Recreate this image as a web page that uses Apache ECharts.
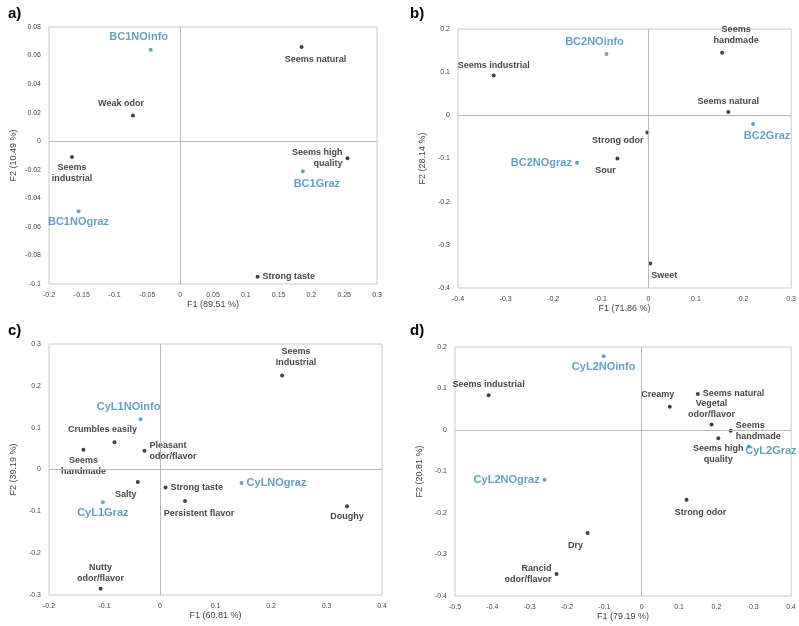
<!DOCTYPE html>
<html>
<head>
<meta charset="utf-8">
<script src="https://cdn.jsdelivr.net/npm/echarts@6/dist/echarts.min.js"></script>
<style>html,body{margin:0;padding:0;background:#fff}#chart{width:799px;height:626px}</style>
</head>
<body>
<div id="chart"></div>
<script>
// panel a
const namesA = ['BC1NOinfo', 'Seems natural', 'Weak odor', 'Seems\nindustrial', 'BC1NOgraz', 'Seems high\nquality', 'BC1Graz', 'Strong taste'];
const xA = [-0.045, 0.185, -0.072, -0.165, -0.155, 0.255, 0.187, 0.118];
const yA = [0.064, 0.066, 0.018, -0.011, -0.049, -0.012, -0.021, -0.095];
const obsA = [1, 0, 0, 0, 1, 0, 1, 0];
const posA = ['topLeft', 'bottomRight', 'topLeft', 'bottom', 'bottom', 'left', 'bottomRight', 'right'];

// panel b
const namesB = ['BC2NOinfo', 'Seems industrial', 'Seems\nhandmade', 'Seems natural', 'BC2Graz', 'Strong odor', 'BC2NOgraz', 'Sour', 'Sweet'];
const xB = [-0.088, -0.325, 0.155, 0.168, 0.22, -0.002, -0.15, -0.065, 0.004];
const yB = [0.142, 0.092, 0.145, 0.008, -0.02, -0.04, -0.11, -0.1, -0.343];
const obsB = [1, 0, 0, 0, 1, 0, 1, 0, 0];
const posB = ['topLeft', 'top', 'topRight', 'top', 'bottomRight', 'leftLow', 'left', 'bottomLeft', 'bottomRight'];

// panel c
const namesC = ['Seems\nIndustrial', 'CyL1NOinfo', 'Crumbles easily', 'Pleasant\nodor/flavor', 'Seems\nhandmade', 'Salty', 'Strong taste', 'CyLNOgraz', 'CyL1Graz', 'Persistent flavor', 'Doughy', 'Nutty\nodor/flavor'];
const xC = [0.22, -0.035, -0.082, -0.028, -0.138, -0.04, 0.01, 0.147, -0.103, 0.045, 0.337, -0.107];
const yC = [0.225, 0.12, 0.065, 0.045, 0.047, -0.03, -0.043, -0.032, -0.078, -0.075, -0.088, -0.285];
const obsC = [0, 1, 0, 0, 0, 0, 0, 1, 1, 0, 0, 0];
const posC = ['topRight', 'topLeft', 'topLeft', 'right', 'bottom', 'bottomLeft', 'right', 'right', 'bottom', 'bottomRight', 'bottom', 'top'];

// panel d
const namesD = ['CyL2NOinfo', 'Seems industrial', 'Seems natural', 'Creamy', 'Vegetal\nodor/flavor', 'Seems\nhandmade', 'Seems high\nquality', 'CyL2Graz', 'CyL2NOgraz', 'Strong odor', 'Dry', 'Rancid\nodor/flavor'];
const xD = [-0.102, -0.41, 0.15, 0.075, 0.187, 0.238, 0.205, 0.287, -0.26, 0.12, -0.145, -0.228];
const yD = [0.178, 0.084, 0.087, 0.056, 0.013, -0.002, -0.02, -0.04, -0.12, -0.168, -0.248, -0.347];
const obsD = [1, 0, 0, 0, 0, 0, 0, 1, 1, 0, 0, 0];
const posD = ['bottom', 'top', 'right', 'topLeft', 'top', 'right', 'bottom', 'overRight', 'left', 'bottomRight', 'bottomLeft', 'left'];

const blue = '#3f88b2';

const placements = {
    top: { position: 'top', distance: 3, align: 'center' },
    bottom: { position: 'bottom', distance: 3, align: 'center' },
    left: { position: 'left', distance: 3, align: 'right' },
    leftLow: { position: 'left', distance: 2, align: 'right', offset: [0, 8] },
    right: { position: 'right', distance: 3, align: 'left' },
    overRight: { position: 'inside', align: 'center', offset: [22, 4] },
    topLeft: { position: 'top', offset: [-12, 0], align: 'center' },
    topRight: { position: 'top', offset: [14, 0], align: 'center' },
    bottomLeft: { position: 'bottom', offset: [-12, 0], align: 'center' },
    bottomRight: { position: 'bottom', offset: [14, 0], align: 'center' }
};

const panels = [
    { names: namesA, x: xA, y: yA, obs: obsA, pos: posA, xr: [-0.2, 0.3, 0.05], yr: [-0.1, 0.08, 0.02], xn: 'F1 (89.51 %)', yn: 'F2 (10.49 %)', g: { left: 49, top: 27, width: 328, height: 257 }, tag: 'a)', tx: 8, ty: 6 },
    { names: namesB, x: xB, y: yB, obs: obsB, pos: posB, xr: [-0.4, 0.3, 0.1], yr: [-0.4, 0.2, 0.1], xn: 'F1 (71.86 %)', yn: 'F2 (28.14 %)', g: { left: 458, top: 29, width: 339, height: 259 }, tag: 'b)', tx: 410, ty: 6 },
    { names: namesC, x: xC, y: yC, obs: obsC, pos: posC, xr: [-0.2, 0.4, 0.1], yr: [-0.3, 0.3, 0.1], xn: 'F1 (60.81 %)', yn: 'F2 (39.19 %)', g: { left: 49, top: 344, width: 333, height: 251 }, tag: 'c)', tx: 8, ty: 323 },
    { names: namesD, x: xD, y: yD, obs: obsD, pos: posD, xr: [-0.5, 0.4, 0.1], yr: [-0.4, 0.2, 0.1], xn: 'F1 (79.19 %)', yn: 'F2 (20.81 %)', g: { left: 455, top: 347, width: 342, height: 249 }, tag: 'd)', tx: 410, ty: 323 }
];

const grid = [], xAxis = [], yAxis = [], series = [], graphic = [];
panels.forEach(function (p, i) {
    grid.push(Object.assign({ show: true, borderColor: '#c8c8c8', borderWidth: 1 }, p.g));
    const axisBase = {
        gridIndex: i, type: 'value',
        axisLine: { show: false }, axisTick: { show: false }, splitLine: { show: false },
        axisLabel: { fontSize: 7, color: '#444', fontFamily: 'Liberation Sans' },
        nameLocation: 'middle',
        nameTextStyle: { fontSize: 9, color: '#444', fontFamily: 'Liberation Sans' }
    };
    xAxis.push(Object.assign({}, axisBase, { min: p.xr[0], max: p.xr[1], interval: p.xr[2], name: p.xn, nameGap: 15 }));
    yAxis.push(Object.assign({}, axisBase, { min: p.yr[0], max: p.yr[1], interval: p.yr[2], name: p.yn, nameGap: 31 }));
    const data = p.names.map(function (n, k) {
        const color = p.obs[k] ? blue : '#111';
        return {
            value: [p.x[k], p.y[k]],
            itemStyle: { color: color },
            label: Object.assign({
                show: true, formatter: n,
                color: color,
                fontWeight: 'bold',
                fontFamily: 'Liberation Sans',
                fontSize: p.obs[k] ? 11 : 9,
                lineHeight: 11
            }, placements[p.pos[k]])
        };
    });
    series.push({
        type: 'scatter', xAxisIndex: i, yAxisIndex: i,
        symbolSize: 4, data: data,
        markLine: {
            silent: true, symbol: 'none', label: { show: false },
            lineStyle: { color: '#b8b8b8', width: 1, type: 'solid' },
            data: [{ xAxis: 0 }, { yAxis: 0 }]
        }
    });
    graphic.push({
        type: 'text', left: p.tx, top: p.ty,
        style: { text: p.tag, font: 'bold 15px Liberation Sans', fill: '#000' }
    });
});

const myChart = echarts.init(document.getElementById('chart'));
myChart.setOption({ animation: false, grid: grid, xAxis: xAxis, yAxis: yAxis, series: series, graphic: graphic });
</script>
</body>
</html>
